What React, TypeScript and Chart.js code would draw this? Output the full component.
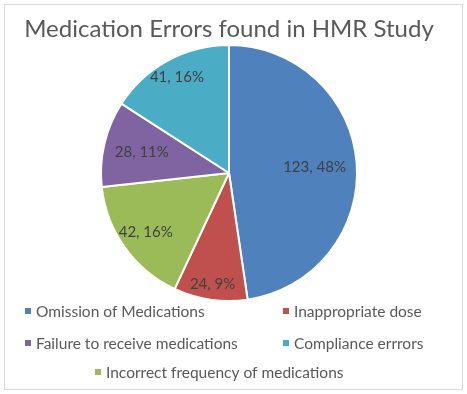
import React, { useEffect, useRef } from "react";
import { Chart, registerables } from "chart.js";

Chart.register(...registerables);

const chartTitle = "Medication Errors found in HMR Study";
const categories = [
  "Omission of Medications",
  "Inappropriate dose",
  "Incorrect frequency of medications",
  "Failure to receive medications",
  "Compliance errrors",
];
const values = [123, 24, 42, 28, 41];
const colors = ["#4F81BD", "#C0504D", "#9BBB59", "#8064A2", "#4BACC6"];
// order in which legend entries appear (row-wise)
const legendOrder = [0, 1, 3, 4, 2];

const FONT = "Lato, 'Liberation Sans', sans-serif";

export default function App() {
  const ref = useRef<HTMLCanvasElement>(null);

  useEffect(() => {
    if (!ref.current) return;
    const total = values.reduce((a, b) => a + b, 0);
    const labelRadius = [0.67, 0.88, 0.8, 0.7, 0.85];

    const decor = {
      id: "decor",
      beforeDraw(chart: any) {
        const ctx = chart.ctx;
        ctx.save();
        ctx.fillStyle = "#ffffff";
        ctx.fillRect(0, 0, chart.width, chart.height);
        ctx.strokeStyle = "#D9D9D9";
        ctx.lineWidth = 1;
        ctx.strokeRect(4.5, 4.5, 458, 385);
        ctx.restore();
      },
      afterDraw(chart: any) {
        const ctx = chart.ctx;
        ctx.save();
        // title
        ctx.fillStyle = "#595959";
        ctx.font = `24px ${FONT}`;
        ctx.textAlign = "center";
        ctx.textBaseline = "middle";
        ctx.fillText(chartTitle, 229, 29);

        // data labels
        const meta = chart.getDatasetMeta(0);
        ctx.fillStyle = "#404040";
        ctx.font = `15px ${FONT}`;
        meta.data.forEach((arc: any, i: number) => {
          const p = arc.getProps(["x", "y", "startAngle", "endAngle", "outerRadius"], true);
          const mid = (p.startAngle + p.endAngle) / 2;
          const r = p.outerRadius * labelRadius[i];
          const v = values[i];
          const txt = `${v}, ${Math.round((v / total) * 100)}%`;
          ctx.fillText(txt, p.x + Math.cos(mid) * r, p.y + Math.sin(mid) * r);
        });

        // legend
        ctx.font = `15.5px ${FONT}`;
        ctx.textAlign = "left";
        ctx.fillStyle = "#595959";
        const slots = [
          [25, 311],
          [283, 311],
          [25, 343],
          [283, 343],
          [95, 372],
        ];
        legendOrder.forEach((idx, k) => {
          const [x, y] = slots[k];
          ctx.fillStyle = colors[idx];
          ctx.fillRect(x, y - 3, 6, 6);
          ctx.fillStyle = "#595959";
          ctx.fillText(categories[idx], x + 11, y + 1);
        });
        ctx.restore();
      },
    };

    const chart = new Chart(ref.current, {
      type: "pie",
      data: {
        labels: categories,
        datasets: [
          {
            data: values,
            backgroundColor: colors,
            borderColor: "#ffffff",
            borderWidth: 2,
          },
        ],
      },
      options: {
        responsive: false,
        animation: false,
        devicePixelRatio: 1,
        layout: { padding: { top: 44, bottom: 92, left: 100, right: 109 } },
        plugins: {
          legend: { display: false },
          title: { display: false },
          tooltip: { enabled: false },
        },
      },
      plugins: [decor],
    });
    return () => chart.destroy();
  }, []);

  return (
    <div style={{ position: "fixed", left: 0, top: 0, width: 467, height: 394 }}>
      <canvas ref={ref} width={467} height={394} style={{ display: "block" }} />
    </div>
  );
}
